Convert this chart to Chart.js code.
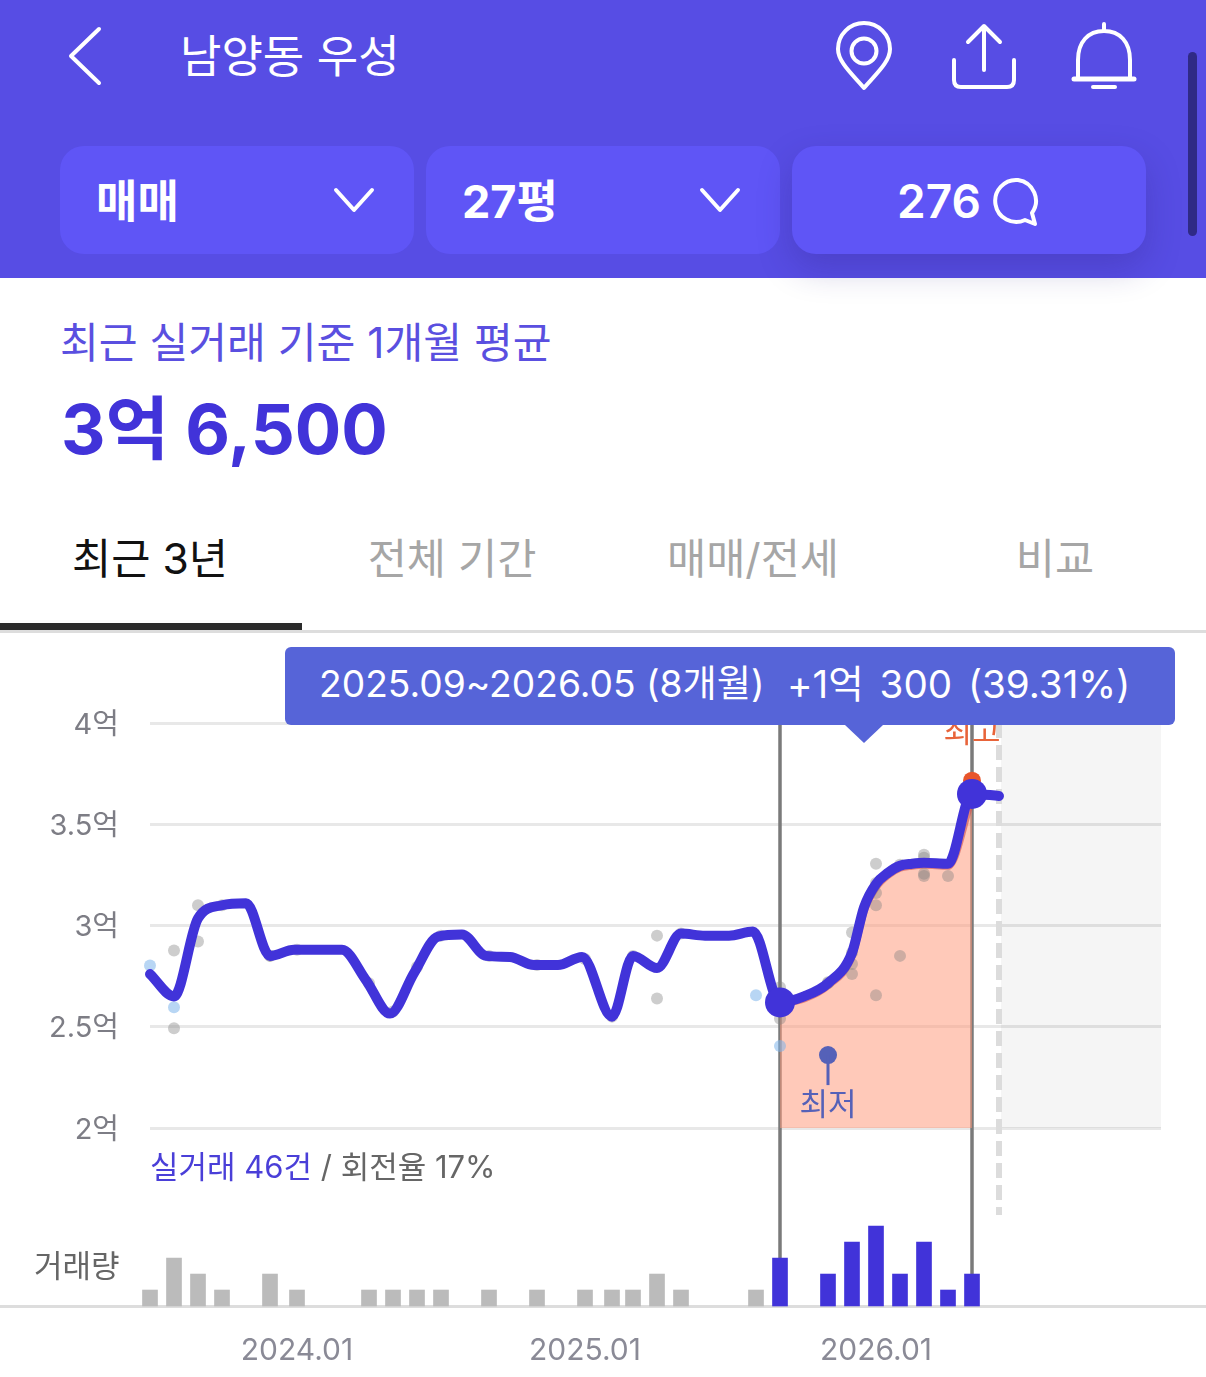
<!DOCTYPE html>
<html lang="ko">
<head>
<meta charset="utf-8">
<title>남양동 우성</title>
<script src="https://cdn.jsdelivr.net/npm/chart.js@4"></script>
<style>
  * { box-sizing: border-box; }
  html, body { margin: 0; background: #fff; }
  body { position: relative; width: 1206px; height: 1377px; overflow: hidden; font-family: Inter, "Noto Sans CJK KR", sans-serif; }
  .abs { position: absolute; white-space: nowrap; line-height: 1; }

  /* ── En-tête ─────────────────────────────── */
  #header { position: absolute; left: 0; top: 0; width: 1206px; height: 278px; background: #574de4; z-index: 3; }
  #scrollbar { position: absolute; left: 1188px; top: 52px; width: 9px; height: 184px; border-radius: 5px; background: #2f2a86; }
  .pill { position: absolute; top: 146px; height: 108px; width: 354px; border-radius: 24px; background: #5f55f6; color: #fff; }
  .pill.raised { box-shadow: 0 14px 34px rgba(45, 35, 130, .28); }
  svg { position: absolute; fill: none; stroke: #fff; stroke-linecap: round; stroke-linejoin: round; }

  /* ── Onglets ─────────────────────────────── */
  .tab { transform: translateX(-50%); top: 538px; font-size: 42.6px; color: #a6a6a6; }
  #tab-rule { position: absolute; left: 0; top: 630px; width: 1206px; height: 3px; background: #ddd; }
  #tab-active { position: absolute; left: 0; top: 623px; width: 302px; height: 7px; background: #2b2b2b; }

  /* ── Graphique ───────────────────────────── */
  #baseline { position: absolute; left: 0; top: 1305px; width: 1206px; height: 3px; background: #ddd; }
  #chart-price { position: absolute; left: 0; top: 630px; }
  #range-tip { position: absolute; left: 285px; top: 647px; width: 890px; height: 78px; border-radius: 6px; background: #5664d8; color: #fff; z-index: 2; }
  #range-tip .abs { top: 18px; font-size: 37.2px; }
  #range-arrow { position: absolute; left: 845px; top: 725px; width: 0; height: 0; border: 19px solid transparent; border-top: 18px solid #5664d8; border-bottom: 0; z-index: 2; }
</style>
</head>
<body>

<div id="header">
  <svg style="left:66px;top:25px" width="38" height="62" stroke-width="4"><path d="M33 4 L5 31 L33 58"/></svg>
  <div class="abs" style="left:180px;top:34px;font-size:45px;color:#fff">남양동 우성</div>

  <svg style="left:832px;top:20px" width="64" height="74" stroke-width="4"><path d="M32 68 C20 54 6 42 6 29 A26 26 0 0 1 58 29 C58 42 44 54 32 68 Z"/><circle cx="32" cy="31" r="12.5"/></svg>
  <svg style="left:948px;top:20px" width="72" height="72" stroke-width="4"><path d="M36 50 V6 M20 22 L36 6 L52 22"/><path d="M6 40 V60 Q6 67 13 67 H59 Q66 67 66 60 V40"/></svg>
  <svg style="left:1068px;top:20px" width="74" height="72" stroke-width="4"><path d="M36 4 V10 M10 58 V40 C10 22 20 11 36 11 C52 11 62 22 62 40 V58"/><path d="M6 59 H66" stroke-width="5"/><path d="M25 67 H47" stroke-width="4"/></svg>

  <div class="pill" style="left:60px">
    <div class="abs" style="left:36px;top:33px;font-size:45px;font-weight:700">매매</div>
    <svg style="left:271px;top:37px" width="46" height="36" stroke-width="4"><path d="M5 7 L23 27 L41 7"/></svg>
  </div>
  <div class="pill" style="left:426px">
    <div class="abs" style="left:36px;top:33px;font-size:45px;font-weight:700">27평</div>
    <svg style="left:271px;top:37px" width="46" height="36" stroke-width="4"><path d="M5 7 L23 27 L41 7"/></svg>
  </div>
  <div class="pill raised" style="left:792px">
    <div class="abs" style="left:105px;top:32px;font-size:46px;font-weight:600">276</div>
    <svg style="left:200px;top:30px" width="52" height="52" stroke-width="4"><path d="M26 4 A21 21 0 1 0 33 44 L43 48 L40 37 A21 21 0 0 0 26 4 Z"/></svg>
  </div>
  <div id="scrollbar"></div>
</div>

<div class="abs" style="left:60px;top:322px;font-size:42.2px;color:#5a4fe0">최근 실거래 기준 1개월 평균</div>
<div class="abs" style="left:61px;top:395px;font-size:69px;font-weight:700;color:#4133d9">3억 6,500</div>

<div class="abs tab" style="left:150px;color:#111">최근 3년</div>
<div class="abs tab" style="left:452px">전체 기간</div>
<div class="abs tab" style="left:753px">매매/전세</div>
<div class="abs tab" style="left:1055px">비교</div>
<div id="tab-rule"></div>
<div id="tab-active"></div>

<div id="baseline"></div>
<canvas id="chart-price" width="1206" height="747"></canvas>

<div id="range-tip">
  <div class="abs" style="left:34px">2025.09~2026.05 (8개월)</div>
  <div class="abs" style="left:502px;font-size:38.6px;word-spacing:5px">+1억 300 (39.31%)</div>
</div>
<div id="range-arrow"></div>

<div class="abs" style="left:150px;top:1151px;font-size:31px;color:#666"><span style="color:#4a3fd8">실거래 46건</span> / 회전율 17%</div>
<div class="abs" style="left:34px;top:1250px;font-size:31px;color:#666">거래량</div>

<script>
/* ── Données ─ x en mois depuis le premier point, prix en 만원 ──── */
const xTickMonths = [6.125, 18.125, 30.25];
const xTickLabels = ['2024.01', '2025.01', '2026.01'];
const yTickValues = [20000, 25000, 30000, 35000, 40000];
const yTickLabels = ['2억', '2.5억', '3억', '3.5억', '4억'];

const priceMonths = [0, 1, 2, 3, 4, 5, 6, 7, 8, 9, 10, 11, 12, 13, 14, 15, 16, 17, 18,
  19.25, 20.125, 21.125, 22.125, 23.125, 24.125, 25.125,
  26.25, 27.25, 28.25, 29.25, 29.75, 30.25, 30.75, 31.25, 31.75, 32.25, 33.25, 34.25, 35.375];
const priceValues = [27600, 26500, 30350, 31000, 31100, 28500, 28800, 28800, 28800, 27300, 25650, 27650, 29450, 29550, 28500, 28450, 28050, 28050, 28450,
  25500, 28500, 27900, 29600, 29500, 29500, 29700,
  26200, 26500, 27150, 28650, 30900, 32050, 32600, 32950, 33050, 33100, 33050, 36500, 36400];

const rangeMonths = [26.25, 27.25, 28.25, 29.25, 29.75, 30.25, 30.75, 31.25, 31.75, 32.25, 33.25, 34.25];
const rangeValues = [26150, 26400, 27050, 28500, 30750, 31900, 32500, 32850, 32950, 33000, 32950, 36400];

const volumeMonths = [0, 1, 2, 3, 5, 6.125, 9.125, 10.125, 11.125, 12.125, 14.125, 16.125, 18.125,
  19.25, 20.125, 21.125, 22.125, 25.25, 26.25, 28.25, 29.25, 30.25, 31.25, 32.25, 33.25, 34.25];
const volumeCounts = [1, 3, 2, 1, 2, 1, 1, 1, 1, 1, 1, 1, 1, 1, 1, 2, 1, 1, 3, 2, 4, 5, 2, 4, 1, 2];

const saleMonths = [1, 1, 2, 2, 3, 5, 5, 6.125, 9.125, 10.125, 11.125, 12.125, 14.125, 16.125, 18.125,
  19.25, 20.125, 21.125, 21.125, 22.125, 26.25, 26.25, 28.25, 28.25,
  29.25, 29.25, 29.25, 29.25, 30.25, 30.25, 30.25, 30.25, 30.25, 31.25, 31.25,
  32.25, 32.25, 32.25, 32.25, 33.25, 34.25];
const saleValues = [28770, 24930, 31000, 29210, 31000, 28500, 28500, 28800, 27150, 25750, 27950, 29500, 28500, 28050, 28350,
  25500, 28500, 29500, 26400, 29600, 26950, 25400, 27150, 27200,
  29650, 28100, 27600, 28650, 33050, 31600, 31000, 26550, 32100, 28500, 33000,
  33500, 33350, 32550, 32450, 32450, 36150];

const directMonths = [0, 1, 25.25, 26.25];
const directValues = [28030, 25960, 26550, 24050];

const rangeStart = 26.25;
const rangeEnd = 34.25;
const forecastMonth = 35.375;
const lastMonth = 42.125;
const peakMonth = 34.25;
const peakValue = 37150;
const lowMonth = 28.25;
const lowValue = 23600;

const axisFont = 'Inter, "Noto Sans CJK KR"';
const toPoints = (xs, ys) => xs.map((x, i) => ({ x, y: ys[i] }));

/* ── Repères dessinés sous les courbes ──────────────────────────── */
const rangeGuides = {
  id: 'rangeGuides',
  beforeDatasetsDraw(chart) {
    const { ctx, chartArea, scales: { x, y, volume } } = chart;
    ctx.save();

    // zone à venir, à droite du pointillé
    ctx.fillStyle = 'rgba(0,0,0,.04)';
    ctx.fillRect(x.getPixelForValue(forecastMonth) + 2, y.getPixelForValue(40000),
      chartArea.right - x.getPixelForValue(forecastMonth) - 2, y.getPixelForValue(20000) - y.getPixelForValue(40000));

    // pointillé de fin de période
    ctx.strokeStyle = '#dcdcdc';
    ctx.lineWidth = 6;
    ctx.setLineDash([15, 7]);
    ctx.beginPath();
    ctx.moveTo(x.getPixelForValue(forecastMonth), y.getPixelForValue(40000));
    ctx.lineTo(x.getPixelForValue(forecastMonth), 585);
    ctx.stroke();
    ctx.setLineDash([]);

    // bornes de la période sélectionnée
    ctx.strokeStyle = '#7a7a7a';
    ctx.lineWidth = 3.5;
    [rangeStart, rangeEnd].forEach((m) => {
      const i = volumeMonths.indexOf(m);
      ctx.beginPath();
      ctx.moveTo(x.getPixelForValue(m), y.getPixelForValue(40000));
      ctx.lineTo(x.getPixelForValue(m), volume.getPixelForValue(volumeCounts[i]));
      ctx.stroke();
    });
    ctx.restore();
  },
  afterDatasetsDraw(chart) {
    const { ctx, scales: { x, y } } = chart;
    ctx.save();
    ctx.textAlign = 'center';
    ctx.textBaseline = 'middle';
    ctx.font = '31px "Noto Sans CJK KR"';

    // tige et libellé du point bas
    const lowX = x.getPixelForValue(lowMonth);
    const lowY = y.getPixelForValue(lowValue);
    ctx.strokeStyle = '#5561b8';
    ctx.lineWidth = 3;
    ctx.beginPath();
    ctx.moveTo(lowX, lowY);
    ctx.lineTo(lowX, lowY + 30);
    ctx.stroke();
    ctx.fillStyle = '#5561b8';
    ctx.fillText('최저', lowX, lowY + 48);

    // libellé du point haut, passe sous la bulle
    ctx.fillStyle = '#e8643a';
    ctx.fillText('최고', x.getPixelForValue(peakMonth), y.getPixelForValue(peakValue) - 50);
    ctx.restore();
  },
};

new Chart(document.getElementById('chart-price'), {
  type: 'line',
  plugins: [rangeGuides],
  data: {
    datasets: [
      {
        type: 'bar', label: '거래량', yAxisID: 'volume', order: 7, clip: false,
        data: toPoints(volumeMonths, volumeCounts),
        backgroundColor: (c) => (c.raw && c.raw.x >= rangeStart ? '#4133d9' : '#bbbbbb'),
        barThickness: 15, borderWidth: 0,
      },
      {
        label: '기간', order: 6, clip: false,
        data: toPoints(rangeMonths, rangeValues),
        borderColor: 'rgba(200,70,70,.55)', borderWidth: 8,
        backgroundColor: 'rgba(255,151,120,.52)',
        fill: { value: 20000 }, cubicInterpolationMode: 'monotone', pointRadius: 0,
      },
      {
        type: 'scatter', label: '매매', order: 5, clip: false,
        data: toPoints(saleMonths, saleValues),
        backgroundColor: 'rgba(130,130,130,.4)', borderWidth: 0, pointRadius: 6,
      },
      {
        type: 'scatter', label: '직거래', order: 5, clip: false,
        data: toPoints(directMonths, directValues),
        backgroundColor: 'rgba(125,180,235,.55)', borderWidth: 0, pointRadius: 6,
      },
      {
        type: 'scatter', label: '최고', order: 4,
        data: [{ x: peakMonth, y: peakValue }],
        backgroundColor: '#e8552b', borderWidth: 0, pointRadius: 9,
      },
      {
        label: '평균', order: 3, clip: false,
        data: toPoints(priceMonths, priceValues),
        borderColor: '#4133d9', borderWidth: 10, borderCapStyle: 'round', borderJoinStyle: 'round',
        cubicInterpolationMode: 'monotone', fill: false, pointRadius: 0,
      },
      {
        type: 'scatter', label: '구간', order: 2, clip: false,
        data: [{ x: rangeStart, y: 26200 }, { x: rangeEnd, y: 36500 }],
        backgroundColor: '#4133d9', borderWidth: 0, pointRadius: 15,
      },
      {
        type: 'scatter', label: '최저', order: 2,
        data: [{ x: lowMonth, y: lowValue }],
        backgroundColor: '#5561b8', borderWidth: 0, pointRadius: 9,
      },
    ],
  },
  options: {
    responsive: false, animation: false, events: [],
    layout: { padding: { top: 93, right: 45, left: 0, bottom: 0 } },
    plugins: { legend: { display: false }, tooltip: { enabled: false } },
    scales: {
      x: {
        type: 'linear', min: 0, max: lastMonth, offset: false,
        grid: { display: false, offset: false }, border: { display: false },
        afterBuildTicks: (s) => { s.ticks = xTickMonths.map((value) => ({ value })); },
        afterFit: (s) => { s.height = 71; },
        ticks: {
          padding: 19, maxRotation: 0, autoSkip: false, color: '#8a8a96',
          font: { family: axisFont, size: 30 },
          callback: (v) => xTickLabels[xTickMonths.indexOf(v)],
        },
      },
      y: {
        min: 11210, max: 40000,
        grid: { color: '#e8e8e8', lineWidth: 3, drawTicks: false }, border: { display: false },
        afterBuildTicks: (s) => { s.ticks = yTickValues.map((value) => ({ value })); },
        afterFit: (s) => { s.width = 150; },
        ticks: {
          padding: 31, labelOffset: 2, autoSkip: false, color: '#7d7d85',
          font: { family: axisFont, size: 29 },
          callback: (v) => yTickLabels[yTickValues.indexOf(v)],
        },
      },
      volume: { display: false, min: 0, max: 36.5, position: 'right' },
    },
  },
});
</script>
</body>
</html>
